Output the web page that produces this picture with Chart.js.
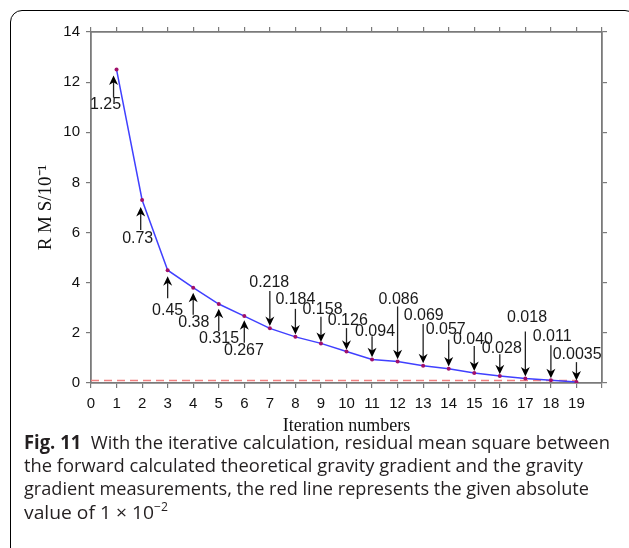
<!DOCTYPE html>
<html>
<head>
<meta charset="utf-8">
<script src="https://cdn.jsdelivr.net/npm/chart.js@4"></script>
<style>
  html, body { margin: 0; padding: 0; background: #fff; overflow: hidden; }
  body { width: 629px; height: 548px; position: relative; }
  #frame {
    position: absolute; left: 10px; top: 10px; width: 627px; height: 600px;
    box-sizing: border-box; border: 1.5px solid #000; border-radius: 12px;
  }
  #chart { position: absolute; left: 0; top: 0; }
  #caption { position: absolute; left: 24px; top: 431px; font-family: "Open Sans", sans-serif;
    font-size: 19px; line-height: 23.2px; color: #231f20; font-weight: 400; }
  #caption .line { white-space: nowrap; transform-origin: left center; width: max-content; }
  #caption b { font-weight: 700; }
  #caption sup { font-size: 12px; vertical-align: 0; position: relative; top: -8px; }
</style>
</head>
<body>
<div id="frame"></div>
<canvas id="chart" width="629" height="440"></canvas>
<div id="caption">
  <div class="line" data-w="586"><b>Fig. 11</b>&nbsp; With the iterative calculation, residual mean square between</div>
  <div class="line" data-w="559">the forward calculated theoretical gravity gradient and the gravity</div>
  <div class="line" data-w="565">gradient measurements, the red line represents the given absolute</div>
  <div class="line" data-w="144">value of 1 × 10<sup>−2</sup></div>
</div>
<script>
// Dados (RMS em unidades de 10^-1)
const iterations = [1, 2, 3, 4, 5, 6, 7, 8, 9, 10, 11, 12, 13, 14, 15, 16, 17, 18, 19];
const rmsValues = [12.5, 7.3, 4.5, 3.8, 3.15, 2.67, 2.18, 1.84, 1.58, 1.26, 0.94, 0.86, 0.69, 0.57, 0.40, 0.28, 0.18, 0.11, 0.035];
const noteLabels = ['1.25', '0.73', '0.45', '0.38', '0.315', '0.267', '0.218', '0.184', '0.158', '0.126',
                    '0.094', '0.086', '0.069', '0.057', '0.040', '0.028', '0.018', '0.011', '0.0035'];
const thresholdX = [0, 19];
const thresholdValue = 0.1;
const xTickMax = 19;

// Posição das setas/rotulos em pixels relativos ao ponto: [dx seta, dy ponta, dy cauda, dx texto, dy texto]
const noteLayout = [
    [-3, 6, 28, -11, 35], [-1.4, 7, 30, -4.4, 39], [0, 6, 28, 0, 40], [0, 5, 27, 0.6, 34.5],
    [0, 4.6, 27, 0.3, 34.6], [0, 4.3, 26.6, -0.4, 35],
    [0, -2.3, -37.3, -0.6, -45.7], [0, -2.3, -28, 0, -37.3], [0, -1.5, -26.7, 1.6, -33.3],
    [0, -1.6, -23.3, 1.3, -30.6], [0, -2.3, -23.3, 3, -28.3], [0, -2.3, -55, 1, -62.3],
    [0, -2.4, -41.7, 0.6, -50], [0, -2.3, -29, -3, -39], [0, -2, -27, -1.3, -33.7],
    [0, -1.7, -21.7, 2, -27.4], [0, -2, -47, 1.7, -61], [0, -2, -35, 1.3, -43.3],
    [0, -1.7, -20, 0.7, -27.7]
];

const axisColor = '#7a7a7a';
const tickFont = { family: 'Liberation Sans, Arial, sans-serif', size: 15 };

// Plugin para desenhar as setas e os rotulos
const arrowNotes = {
    id: 'arrowNotes',
    afterDatasetsDraw(chart) {
        const ctx = chart.ctx;
        const xs = chart.scales.x, ys = chart.scales.y;
        ctx.save();
        ctx.font = '16px "Liberation Sans", Arial, sans-serif';
        ctx.textAlign = 'center';
        ctx.textBaseline = 'middle';
        iterations.forEach((it, i) => {
            const px = xs.getPixelForValue(it);
            const py = ys.getPixelForValue(rmsValues[i]);
            const [adx, tipDy, tailDy, tdx, tdy] = noteLayout[i];
            const ax = px + adx;
            const tipY = py + tipDy;
            const tailY = py + tailDy;
            const dir = tailY > tipY ? 1 : -1; // 1 = seta para cima
            const headH = 9.5, headW = 4.5;
            ctx.strokeStyle = '#222';
            ctx.lineWidth = 1.3;
            ctx.beginPath();
            ctx.moveTo(ax, tailY);
            ctx.lineTo(ax, tipY + dir * headH * 0.6);
            ctx.stroke();
            ctx.fillStyle = '#000';
            ctx.beginPath();
            ctx.moveTo(ax, tipY);
            ctx.lineTo(ax - headW, tipY + dir * headH);
            ctx.lineTo(ax, tipY + dir * headH * 0.7);
            ctx.lineTo(ax + headW, tipY + dir * headH);
            ctx.closePath();
            ctx.fill();
            ctx.fillStyle = '#1a1a1a';
            ctx.fillText(noteLabels[i], px + tdx, py + tdy);
        });
        ctx.restore();
    }
};

const gridOpts = { drawOnChartArea: false, drawTicks: true, tickLength: 5, color: axisColor, lineWidth: 1.2 };
const borderOpts = { color: axisColor, width: 1.8 };

new Chart(document.getElementById('chart'), {
    type: 'line',
    data: {
        datasets: [{
            label: 'RMS',
            data: iterations.map((x, i) => ({ x: x, y: rmsValues[i] })),
            borderColor: '#4040ff',
            borderWidth: 1.5,
            pointRadius: 2,
            pointBackgroundColor: '#a0106a',
            pointBorderWidth: 0,
            tension: 0
        }, {
            label: 'Limite',
            data: thresholdX.map(x => ({ x: x, y: thresholdValue })),
            borderColor: '#f07f7f',
            borderWidth: 1.5,
            borderDash: [8, 5],
            pointRadius: 0,
            tension: 0
        }]
    },
    options: {
        responsive: false,
        animation: false,
        devicePixelRatio: 1,
        layout: { padding: { left: 0, top: 0, right: 0, bottom: 3 } },
        plugins: { legend: { display: false }, tooltip: { enabled: false } },
        scales: {
            x: {
                type: 'linear', position: 'bottom', min: 0, max: 20,
                ticks: {
                    stepSize: 1, font: tickFont, color: '#111', padding: 7, maxRotation: 0, autoSkip: false,
                    callback: v => (v <= xTickMax ? String(v) : '')
                },
                grid: gridOpts, border: borderOpts,
                title: {
                    display: true, text: 'Iteration numbers', color: '#111',
                    font: { family: 'Liberation Serif, Times New Roman, serif', size: 18 },
                    padding: { top: 0, bottom: 0 }
                },
                afterFit: s => { s.height = 54; }
            },
            xTop: {
                type: 'linear', position: 'top', min: 0, max: 20,
                ticks: { stepSize: 1, display: false },
                grid: gridOpts, border: borderOpts,
                afterFit: s => { s.height = 32; }
            },
            y: {
                type: 'linear', position: 'left', min: 0, max: 14,
                ticks: { stepSize: 2, font: tickFont, color: '#111', padding: 6 },
                grid: gridOpts, border: borderOpts,
                title: {
                    display: true, text: 'R M S/10⁻¹', color: '#111',
                    font: { family: 'Liberation Serif, Times New Roman, serif', size: 19 },
                    padding: { top: 35, bottom: 0 }
                },
                afterFit: s => { s.width = 91; }
            },
            yRight: {
                type: 'linear', position: 'right', min: 0, max: 14,
                ticks: { stepSize: 2, display: false },
                grid: gridOpts, border: borderOpts,
                afterFit: s => { s.width = 27; }
            }
        }
    },
    plugins: [arrowNotes]
});

// Ajusta a largura das linhas da legenda
document.querySelectorAll('#caption .line').forEach(el => {
    const w = el.getBoundingClientRect().width;
    const target = parseFloat(el.dataset.w);
    el.style.transform = 'scaleX(' + (target / w).toFixed(4) + ')';
});
</script>
</body>
</html>
